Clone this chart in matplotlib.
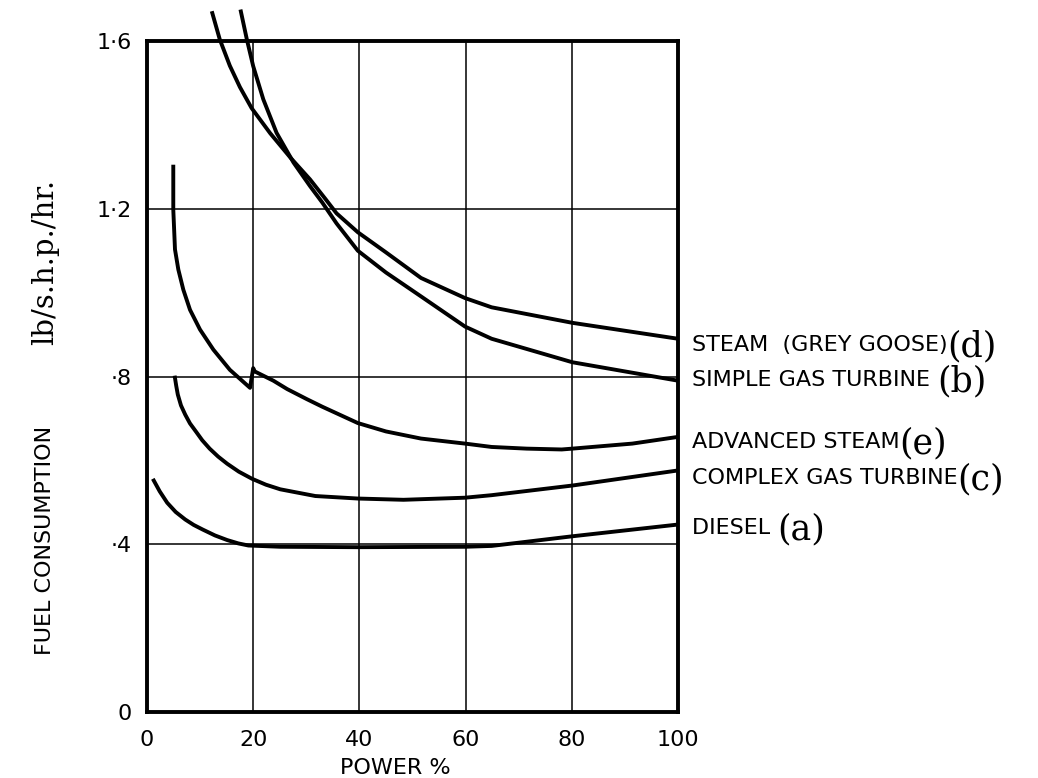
import numpy as np
import matplotlib
matplotlib.use('Agg')
import matplotlib.pyplot as plt

plt.rcParams['font.family'] = 'DejaVu Sans'

# data (power %, fuel consumption lb/s.h.p./hr.)
steam_x = [12.2, 13.7, 15.6, 17.5, 19.7, 23.2, 27.0, 30.7, 33.5, 35.7, 39.7, 45.0, 51.6, 59.9,
           64.9, 80.1, 100]
steam_y = [1.671, 1.604, 1.541, 1.490, 1.440, 1.380, 1.322, 1.270, 1.225, 1.189, 1.144, 1.096,
           1.035, 0.987, 0.965, 0.928, 0.890]

simple_x = [17.6, 18.8, 20.0, 21.9, 24.4, 27.6, 30.7, 33.0, 35.7, 39.7, 45.0, 51.6, 59.9, 64.9,
            80.1, 100]
simple_y = [1.675, 1.604, 1.540, 1.461, 1.381, 1.310, 1.254, 1.215, 1.165, 1.100, 1.048, 0.991,
            0.919, 0.890, 0.834, 0.790]

adv_x = [4.95, 4.95, 5.27, 5.9, 6.84, 8.1, 9.98, 12.5, 15.6, 19.4, 20.0, 20.3, 23.8, 26.4, 30.1,
         33.0, 39.7, 45.0, 51.6, 59.9, 64.9, 71.5, 78.1, 80.1, 91.4, 100]
adv_y = [1.305, 1.198, 1.103, 1.055, 1.007, 0.959, 0.912, 0.864, 0.816, 0.773, 0.820, 0.812,
         0.790, 0.770, 0.746, 0.728, 0.689, 0.669, 0.652, 0.640, 0.632, 0.628, 0.626, 0.628,
         0.640, 0.656]

complex_x = [5.2, 5.5, 5.8, 6.4, 7.2, 8.1, 9.2, 10.4, 11.8, 13.4, 15.1, 17.3, 19.8, 22.4, 25.1,
             31.7, 39.7, 48.3, 59.9, 64.9, 80.1, 100]
complex_y = [0.802, 0.778, 0.757, 0.731, 0.709, 0.688, 0.669, 0.648, 0.628, 0.609, 0.592, 0.573,
             0.556, 0.542, 0.531, 0.515, 0.509, 0.506, 0.511, 0.517, 0.540, 0.576]

diesel_x = [1.1, 2.4, 3.8, 5.4, 7.2, 8.8, 10.5, 12.8, 15.1, 17.2, 19.1, 25.1, 39.7, 59.9, 64.9,
            80.1, 100]
diesel_y = [0.556, 0.526, 0.499, 0.477, 0.459, 0.446, 0.435, 0.421, 0.410, 0.402, 0.397, 0.394,
            0.393, 0.394, 0.396, 0.419, 0.447]

names = ['STEAM  (GREY GOOSE)', 'SIMPLE GAS TURBINE ', 'ADVANCED STEAM', 'COMPLEX GAS TURBINE',
         'DIESEL ']
letters = ['(d)', '(b)', '(e)', '(c)', '(a)']

xticks = [0, 20, 40, 60, 80, 100]
yticks = [0, 0.4, 0.8, 1.2, 1.6]
ytick_labels = ['0', '·4', '·8', '1·2', '1·6']

W, H = 1038, 778
fig = plt.figure(figsize=(W / 100, H / 100), dpi=100)
ax = fig.add_axes([147 / W, 1 - 712 / H, 531 / W, 671 / H])

for xs, ys in [(steam_x, steam_y), (simple_x, simple_y), (adv_x, adv_y),
               (complex_x, complex_y), (diesel_x, diesel_y)]:
    ax.plot(xs, ys, color='k', lw=2.8, clip_on=False, solid_capstyle='butt',
            solid_joinstyle='round')

ax.set_xlim(0, 100)
ax.set_ylim(0, 1.6)
ax.set_xticks(xticks)
ax.set_xticklabels([str(v) for v in xticks], fontsize=16)
ax.set_yticks(yticks)
ax.set_yticklabels(ytick_labels, fontsize=16)
ax.tick_params(length=0)
ax.tick_params(axis='x', pad=13)
ax.tick_params(axis='y', pad=11)
ax.grid(color='k', lw=1.1)
ax.set_axisbelow(True)
for s in ax.spines.values():
    s.set_linewidth(2.8)

# curve labels on the right
label_py = [345, 380, 442, 478, 528]
texts = []
for name, py in zip(names, label_py):
    t = fig.text(692 / W, 1 - py / H, name, fontsize=16, va='center', ha='left')
    texts.append(t)

fig.canvas.draw()
r = fig.canvas.get_renderer()
for t, letter in zip(texts, letters):
    bb = t.get_window_extent(r)
    fig.text(bb.x1 / W, (bb.y0 + bb.y1) / 2 / H - 0.002, letter, fontsize=25,
             family='DejaVu Serif', va='center', ha='left')

# axis titles
fig.text(45 / W, 1 - 540 / H, 'FUEL CONSUMPTION', rotation=90, fontsize=16,
         ha='center', va='center')
fig.text(45 / W, 1 - 262 / H, 'lb/s.h.p./hr.', rotation=90, fontsize=21,
         family='DejaVu Serif', ha='center', va='center')
fig.text(395 / W, 1 - 768 / H, 'POWER %', fontsize=16, ha='center', va='center')

fig.savefig('out.png', dpi=100)
